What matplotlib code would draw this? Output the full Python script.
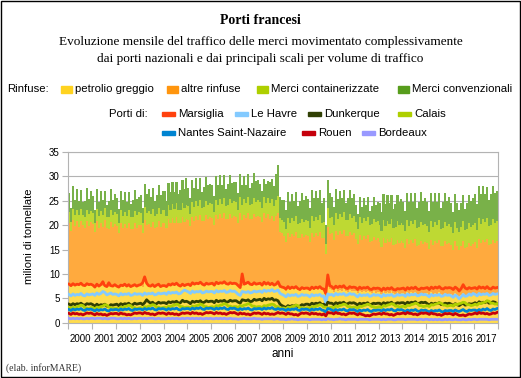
import matplotlib
matplotlib.use("Agg")
import matplotlib.pyplot as plt
from matplotlib.patches import Rectangle
import numpy as np

# valori mensili 2000-2017, milioni di tonnellate (una riga = un anno)
petrolio_greggio = [
    7.9, 7.4, 8.1, 7.6, 8.0, 7.7, 8.2, 7.9, 7.5, 8.0, 7.6, 8.1,
    7.8, 7.2, 8.0, 7.5, 7.9, 7.6, 8.1, 7.7, 7.4, 7.9, 7.5, 7.8,
    7.6, 7.1, 7.8, 7.4, 7.7, 7.5, 7.9, 7.6, 7.3, 7.8, 7.4, 7.7,
    7.8, 7.3, 8.6, 7.9, 7.6, 7.5, 7.8, 7.4, 7.6, 7.9, 7.3, 7.7,
    7.7, 7.4, 7.9, 7.6, 8.0, 7.7, 8.1, 7.8, 7.5, 8.0, 7.6, 7.9,
    7.9, 7.5, 8.1, 7.8, 8.2, 7.9, 8.3, 8.0, 7.7, 8.1, 7.8, 8.0,
    8.0, 7.6, 8.2, 7.9, 8.3, 8.0, 8.4, 8.1, 7.8, 8.2, 7.9, 8.1,
    8.1, 7.7, 8.3, 7.6, 8.0, 7.8, 8.2, 7.9, 7.7, 8.1, 7.8, 8.0,
    7.9, 7.6, 8.2, 7.8, 8.1, 7.7, 8.0, 7.6, 7.8, 7.9, 7.2, 7.3,
    7.0, 6.6, 7.2, 6.8, 7.1, 6.9, 7.2, 6.8, 6.6, 6.9, 6.7, 6.9,
    6.8, 6.4, 7.0, 6.7, 7.0, 6.8, 7.1, 6.7, 6.5, 5.2, 7.4, 6.9,
    6.8, 6.3, 6.9, 6.5, 6.8, 6.6, 6.9, 6.5, 6.3, 6.7, 6.4, 6.6,
    6.4, 6.0, 6.6, 6.2, 6.5, 6.3, 6.6, 6.2, 6.0, 6.4, 6.1, 6.3,
    6.2, 5.8, 6.4, 6.0, 6.3, 6.1, 6.4, 6.0, 5.8, 6.2, 5.9, 6.1,
    6.1, 5.7, 6.3, 5.9, 6.2, 6.0, 6.3, 5.9, 5.7, 6.1, 5.8, 6.0,
    6.0, 5.6, 6.2, 5.8, 6.1, 5.9, 6.2, 5.8, 5.6, 6.0, 5.7, 5.9,
    5.9, 5.5, 6.1, 5.7, 5.4, 5.6, 6.1, 5.7, 5.5, 5.9, 5.6, 5.8,
    5.9, 5.5, 6.1, 5.8, 6.0, 5.8, 6.1, 5.7, 5.6, 6.0, 5.7, 5.9,
]
altre_rinfuse = [
    12.6, 11.4, 12.9, 12.2, 12.8, 12.0, 12.7, 12.1, 11.9, 12.8, 12.3, 12.6,
    12.4, 11.3, 12.8, 12.0, 12.6, 12.1, 12.9, 11.8, 11.9, 12.7, 12.2, 12.5,
    12.3, 11.2, 12.7, 12.0, 12.5, 11.9, 12.6, 11.7, 12.0, 12.6, 12.1, 12.4,
    12.2, 11.0, 12.5, 12.1, 12.7, 12.2, 12.8, 12.0, 12.1, 12.9, 12.4, 12.8,
    12.8, 12.0, 13.3, 12.9, 13.4, 12.8, 13.5, 12.7, 12.9, 13.6, 13.1, 13.4,
    13.2, 12.3, 13.6, 13.1, 13.7, 13.2, 13.8, 12.9, 13.2, 13.9, 13.4, 13.6,
    13.4, 12.5, 13.9, 13.3, 13.9, 13.4, 14.0, 13.1, 13.4, 14.0, 13.6, 13.8,
    13.6, 12.7, 14.1, 13.5, 14.0, 13.6, 14.2, 13.3, 13.6, 14.2, 13.8, 13.9,
    13.7, 13.0, 14.2, 13.6, 14.1, 13.5, 13.9, 13.2, 14.0, 14.6, 11.4, 11.0,
    10.8, 10.0, 11.2, 10.7, 11.1, 10.9, 11.3, 10.5, 10.8, 11.2, 10.9, 11.1,
    10.9, 10.2, 11.4, 10.9, 11.3, 11.0, 11.5, 10.6, 10.9, 8.8, 12.2, 11.3,
    11.5, 10.7, 12.0, 11.4, 11.9, 11.5, 12.1, 11.2, 11.4, 11.9, 11.6, 11.8,
    10.8, 10.1, 11.3, 10.7, 11.2, 10.9, 11.3, 10.4, 10.7, 11.2, 10.9, 11.0,
    10.4, 9.7, 10.9, 10.3, 10.8, 10.5, 10.9, 10.0, 10.3, 10.8, 10.5, 10.6,
    10.3, 9.6, 10.8, 10.2, 10.7, 10.4, 10.8, 9.9, 10.2, 10.7, 10.4, 10.5,
    10.3, 9.6, 10.8, 10.2, 10.7, 10.4, 10.8, 9.9, 10.2, 10.7, 10.4, 10.5,
    10.1, 9.4, 10.6, 10.0, 9.6, 10.2, 10.6, 9.7, 10.0, 10.5, 10.2, 10.3,
    10.6, 9.9, 11.1, 10.5, 11.0, 10.7, 11.1, 10.2, 10.5, 11.0, 10.7, 10.8,
]
merci_container = [
    2.2, 1.9, 2.4, 2.2, 2.4, 2.3, 2.5, 2.1, 2.2, 2.4, 2.3, 2.3,
    2.3, 2.0, 2.5, 2.3, 2.5, 2.3, 2.5, 2.2, 2.3, 2.5, 2.4, 2.4,
    2.4, 2.1, 2.6, 2.4, 2.6, 2.4, 2.6, 2.3, 2.4, 2.6, 2.5, 2.5,
    2.5, 2.2, 2.7, 2.5, 2.7, 2.6, 2.8, 2.4, 2.5, 2.7, 2.6, 2.6,
    2.7, 2.4, 2.9, 2.7, 2.9, 2.8, 3.0, 2.6, 2.7, 2.9, 2.8, 2.8,
    2.8, 2.5, 3.0, 2.8, 3.0, 2.9, 3.1, 2.7, 2.8, 3.0, 2.9, 2.9,
    2.9, 2.6, 3.1, 2.9, 3.1, 3.0, 3.2, 2.8, 2.9, 3.1, 3.0, 3.0,
    3.1, 2.8, 3.3, 3.1, 3.3, 3.2, 3.4, 3.0, 3.1, 3.3, 3.2, 3.2,
    3.2, 2.9, 3.4, 3.2, 3.4, 3.3, 3.5, 3.1, 3.3, 3.5, 2.9, 2.8,
    2.9, 2.7, 3.1, 3.0, 3.2, 3.1, 3.3, 2.9, 3.0, 3.2, 3.1, 3.1,
    3.1, 2.9, 3.4, 3.2, 3.4, 3.3, 3.5, 3.1, 3.2, 2.2, 3.9, 3.3,
    3.3, 3.1, 3.6, 3.4, 3.6, 3.5, 3.7, 3.3, 3.4, 3.6, 3.5, 3.5,
    3.4, 3.2, 3.7, 3.5, 3.7, 3.6, 3.8, 3.4, 3.5, 3.7, 3.6, 3.6,
    3.5, 3.3, 3.8, 3.6, 3.8, 3.7, 3.9, 3.5, 3.6, 3.8, 3.7, 3.7,
    3.6, 3.4, 3.9, 3.7, 3.9, 3.8, 4.0, 3.6, 3.7, 3.9, 3.8, 3.8,
    3.6, 3.4, 3.9, 3.7, 3.9, 3.8, 4.0, 3.6, 3.7, 3.9, 3.8, 3.8,
    3.7, 3.5, 4.0, 3.8, 3.6, 3.9, 4.1, 3.7, 3.8, 4.0, 3.9, 3.9,
    3.9, 3.7, 4.2, 4.0, 4.2, 4.1, 4.3, 3.9, 4.0, 4.2, 4.1, 4.1,
]
merci_convenzionali = [
    3.9, 2.8, 4.6, 3.1, 4.3, 3.0, 3.8, 2.6, 3.4, 4.5, 3.2, 4.0,
    3.5, 2.7, 4.2, 3.0, 4.0, 3.2, 3.6, 2.5, 3.3, 4.3, 3.1, 3.7,
    3.2, 2.9, 3.9, 3.3, 4.1, 3.0, 3.7, 2.7, 3.5, 4.2, 3.3, 3.2,
    3.6, 3.0, 4.6, 3.8, 4.4, 3.5, 4.3, 3.2, 4.0, 4.8, 3.9, 4.0,
    3.8, 3.1, 4.5, 3.7, 4.6, 3.6, 4.3, 3.3, 4.1, 4.7, 4.0, 5.6,
    3.7, 3.2, 4.6, 3.9, 4.7, 3.5, 4.4, 3.2, 4.2, 4.8, 4.1, 3.9,
    4.0, 3.3, 4.8, 4.1, 4.9, 3.8, 4.6, 3.4, 4.3, 5.0, 4.2, 4.0,
    4.1, 3.4, 4.7, 4.0, 4.8, 3.7, 4.6, 3.5, 4.2, 5.0, 4.3, 4.1,
    3.7, 3.5, 3.7, 3.9, 3.4, 4.3, 4.1, 4.1, 5.4, 6.3, 4.3, 4.1,
    4.4, 3.8, 5.2, 4.3, 5.0, 4.1, 4.9, 3.7, 4.6, 5.3, 4.5, 4.8,
    4.6, 4.0, 5.5, 4.7, 5.3, 4.5, 5.2, 4.1, 4.9, 3.8, 5.8, 5.0,
    4.2, 3.6, 4.9, 4.0, 4.7, 3.9, 4.6, 3.5, 4.4, 5.0, 4.1, 4.5,
    3.5, 3.0, 4.2, 3.4, 4.1, 3.3, 4.0, 2.9, 3.7, 4.4, 3.6, 3.8,
    4.4, 3.9, 5.2, 4.5, 5.3, 4.2, 5.0, 3.8, 4.7, 5.4, 4.6, 4.9,
    4.8, 4.2, 5.6, 4.9, 5.7, 4.6, 5.4, 4.1, 5.1, 6.2, 5.0, 5.3,
    4.9, 4.3, 5.7, 5.0, 5.8, 4.7, 5.5, 4.2, 5.2, 5.9, 5.1, 5.5,
    4.9, 4.4, 5.6, 5.1, 4.6, 4.8, 5.4, 4.3, 5.3, 5.8, 5.2, 5.6,
    5.9, 5.2, 6.7, 6.0, 6.8, 5.7, 6.4, 5.3, 6.2, 6.9, 6.0, 6.2,
]

marsiglia = [
    7.9, 7.6, 8.0, 7.7, 7.9, 7.8, 8.1, 7.7, 7.6, 8.0, 7.8, 7.9,
    7.7, 7.3, 7.9, 7.5, 7.8, 8.4, 7.6, 7.4, 8.2, 7.6, 7.5, 7.8,
    7.5, 7.3, 7.7, 7.6, 7.9, 7.5, 7.8, 7.4, 7.6, 7.8, 7.5, 7.7,
    7.8, 8.2, 9.4, 8.1, 7.6, 7.5, 7.8, 7.4, 7.7, 7.9, 7.4, 7.6,
    7.6, 7.4, 7.9, 7.7, 8.0, 7.8, 8.1, 7.7, 7.5, 7.9, 7.6, 7.8,
    7.9, 7.6, 8.2, 7.9, 8.1, 8.0, 8.3, 7.9, 7.7, 8.1, 7.9, 8.0,
    8.1, 7.7, 8.3, 8.0, 8.2, 8.1, 8.4, 8.0, 7.9, 8.2, 8.0, 8.1,
    8.0, 7.6, 7.2, 10.0, 7.9, 8.1, 8.3, 7.9, 7.8, 8.2, 7.9, 8.0,
    8.1, 7.7, 8.3, 7.9, 8.2, 7.8, 8.1, 7.7, 7.9, 8.4, 7.5, 7.3,
    7.2, 6.9, 7.4, 7.0, 7.3, 7.1, 7.4, 7.0, 6.8, 7.2, 7.0, 7.1,
    7.1, 6.8, 7.3, 7.0, 7.3, 7.1, 7.4, 7.0, 6.9, 6.0, 9.8, 7.6,
    7.4, 7.0, 7.5, 7.2, 7.5, 7.3, 7.6, 7.1, 7.0, 7.4, 7.2, 7.3,
    7.2, 6.8, 7.3, 7.0, 7.2, 7.1, 7.3, 6.9, 6.8, 7.1, 7.0, 7.1,
    7.0, 6.6, 7.1, 6.8, 7.1, 6.9, 7.2, 6.8, 6.7, 7.0, 6.9, 7.0,
    7.1, 6.7, 7.2, 6.9, 7.2, 7.0, 7.3, 6.9, 6.8, 7.1, 7.0, 7.1,
    7.2, 6.8, 7.3, 7.0, 7.3, 7.1, 7.4, 7.0, 6.9, 7.2, 7.1, 7.2,
    7.1, 6.8, 7.3, 7.0, 6.5, 7.0, 7.8, 7.1, 6.9, 7.2, 7.0, 7.1,
    7.2, 6.9, 7.4, 7.1, 7.3, 7.0, 7.4, 7.0, 6.9, 7.3, 7.1, 7.2,
]
le_havre = [
    5.8, 5.5, 5.9, 5.6, 5.8, 5.7, 6.0, 5.6, 5.5, 5.9, 5.7, 5.8,
    5.9, 5.6, 6.1, 5.8, 6.0, 6.4, 6.2, 5.7, 5.9, 6.1, 5.8, 5.9,
    5.8, 5.5, 6.0, 5.7, 5.9, 5.8, 6.0, 5.6, 5.7, 6.0, 5.8, 5.9,
    5.9, 5.6, 6.1, 5.8, 6.0, 5.9, 6.1, 5.7, 5.8, 6.1, 5.9, 6.0,
    6.1, 5.8, 6.3, 6.0, 6.2, 6.1, 6.3, 5.9, 6.0, 6.4, 6.7, 6.5,
    6.3, 6.0, 6.5, 6.2, 6.4, 6.3, 6.5, 6.1, 6.2, 6.5, 6.3, 6.4,
    6.4, 6.1, 6.6, 6.3, 6.5, 6.4, 6.6, 6.2, 6.3, 6.6, 6.4, 6.5,
    6.2, 5.8, 5.6, 6.4, 6.3, 6.2, 6.4, 6.1, 6.2, 6.5, 6.3, 6.4,
    6.5, 6.2, 6.7, 6.4, 6.6, 6.5, 6.8, 6.4, 6.5, 6.7, 6.0, 5.8,
    5.6, 5.3, 5.8, 5.5, 5.7, 5.6, 5.8, 5.4, 5.5, 5.8, 5.6, 5.7,
    5.6, 5.3, 5.8, 5.5, 5.7, 5.6, 5.8, 5.4, 5.5, 4.0, 5.9, 5.7,
    5.8, 5.5, 6.0, 5.7, 5.9, 5.8, 6.0, 5.6, 5.7, 6.0, 5.8, 5.9,
    5.6, 5.3, 5.8, 5.5, 5.7, 5.6, 5.8, 5.4, 5.5, 5.8, 5.6, 5.7,
    5.6, 5.3, 5.8, 5.5, 5.7, 5.6, 5.8, 5.4, 5.5, 5.8, 5.6, 5.7,
    5.7, 5.4, 5.9, 5.6, 5.8, 5.7, 5.9, 5.5, 5.6, 5.9, 5.7, 5.8,
    5.6, 5.3, 5.8, 5.5, 5.7, 5.6, 5.8, 5.4, 5.5, 5.8, 5.6, 5.7,
    5.5, 5.2, 5.7, 5.4, 4.9, 5.3, 5.8, 5.4, 5.5, 5.9, 5.6, 6.0,
    5.8, 5.5, 6.0, 5.7, 5.9, 5.8, 6.0, 5.6, 5.7, 6.0, 5.8, 5.9,
]
dunkerque = [
    3.8, 3.6, 3.9, 3.7, 3.9, 3.8, 4.0, 3.7, 3.6, 3.9, 3.8, 3.9,
    3.7, 3.4, 3.8, 3.5, 3.7, 3.6, 3.8, 3.4, 3.3, 3.7, 3.6, 3.7,
    3.8, 3.5, 3.9, 3.7, 3.9, 3.8, 4.0, 3.6, 3.7, 4.0, 3.8, 3.9,
    4.0, 3.7, 4.1, 4.7, 4.3, 4.0, 4.2, 3.8, 3.9, 4.2, 4.0, 4.1,
    4.1, 3.9, 4.3, 4.1, 4.3, 4.2, 4.4, 4.0, 4.1, 4.6, 4.3, 4.4,
    4.2, 3.9, 4.4, 4.2, 4.4, 4.3, 4.5, 4.1, 4.2, 4.5, 4.3, 4.4,
    4.4, 4.1, 4.6, 4.3, 4.5, 4.4, 4.6, 4.2, 4.3, 4.6, 4.4, 4.5,
    4.5, 4.2, 4.0, 4.7, 4.6, 4.5, 4.7, 4.3, 4.4, 4.8, 4.6, 4.7,
    4.8, 4.5, 5.0, 4.7, 4.9, 4.8, 5.0, 4.6, 4.7, 4.5, 3.8, 3.5,
    3.3, 3.1, 3.5, 3.3, 3.5, 3.4, 3.6, 3.3, 3.4, 3.7, 3.6, 3.8,
    3.8, 3.6, 4.0, 3.8, 4.0, 3.9, 4.1, 3.7, 3.8, 3.3, 4.2, 4.0,
    4.0, 3.7, 4.1, 3.9, 4.1, 4.0, 4.2, 3.8, 3.9, 4.1, 4.0, 4.1,
    3.9, 3.6, 4.0, 3.8, 4.0, 3.9, 4.1, 3.7, 3.8, 4.0, 3.9, 4.0,
    4.0, 3.7, 4.1, 3.9, 4.1, 4.0, 4.2, 3.8, 3.9, 4.1, 4.0, 4.1,
    4.1, 3.8, 4.2, 4.0, 4.2, 4.1, 4.3, 3.9, 4.0, 4.2, 4.1, 4.2,
    3.9, 3.6, 4.0, 3.8, 4.0, 3.9, 4.1, 3.7, 3.8, 4.0, 3.9, 4.0,
    3.8, 3.5, 3.9, 3.7, 3.5, 3.8, 4.0, 3.6, 3.7, 3.9, 3.8, 3.9,
    4.1, 3.8, 4.3, 4.0, 4.2, 4.1, 4.4, 4.0, 4.1, 4.3, 4.2, 3.9,
]
calais = [
    3.1, 2.9, 3.2, 3.0, 3.3, 3.4, 3.6, 3.5, 3.1, 3.0, 2.9, 3.1,
    3.1, 2.8, 3.2, 3.1, 3.3, 3.4, 3.7, 3.6, 3.2, 3.1, 2.9, 3.0,
    3.0, 2.8, 3.2, 3.1, 3.3, 3.4, 3.6, 3.5, 3.1, 3.1, 2.9, 3.0,
    3.1, 2.9, 3.3, 3.2, 3.4, 3.5, 3.7, 3.6, 3.2, 3.2, 3.0, 3.1,
    3.2, 3.0, 3.4, 3.3, 3.5, 3.6, 3.8, 3.7, 3.3, 3.3, 3.1, 3.2,
    3.2, 3.0, 3.4, 3.3, 3.5, 3.6, 3.8, 3.7, 3.3, 3.3, 3.1, 3.2,
    3.3, 3.1, 3.5, 3.4, 3.6, 3.7, 3.9, 3.8, 3.4, 3.4, 3.2, 3.3,
    3.3, 3.1, 3.5, 3.4, 3.6, 3.7, 3.9, 3.8, 3.4, 3.4, 3.2, 3.3,
    3.3, 3.1, 3.5, 3.4, 3.6, 3.7, 3.8, 3.7, 3.3, 3.3, 3.0, 3.0,
    3.0, 2.8, 3.2, 3.1, 3.3, 3.4, 3.6, 3.5, 3.1, 3.1, 2.9, 3.0,
    3.1, 2.9, 3.3, 3.2, 3.4, 3.5, 3.7, 3.6, 3.2, 3.2, 3.0, 3.1,
    3.2, 3.0, 3.4, 3.3, 3.5, 3.6, 3.8, 3.7, 3.3, 3.3, 3.1, 3.2,
    3.2, 3.0, 3.4, 3.3, 3.5, 3.6, 3.8, 3.7, 3.3, 3.3, 3.1, 3.2,
    3.3, 3.1, 3.5, 3.4, 3.6, 3.7, 3.9, 3.8, 3.4, 3.4, 3.2, 3.3,
    3.4, 3.2, 3.6, 3.5, 3.7, 3.8, 4.0, 3.9, 3.5, 3.5, 3.3, 3.4,
    3.5, 3.3, 3.7, 3.6, 3.8, 3.9, 4.1, 4.0, 3.6, 3.6, 3.4, 3.5,
    3.6, 3.4, 3.8, 3.7, 3.9, 4.0, 4.2, 4.1, 3.7, 3.7, 3.5, 3.6,
    3.8, 3.6, 4.0, 3.9, 4.1, 4.2, 4.5, 4.4, 4.0, 4.0, 3.8, 3.9,
]
nantes = [
    2.7, 2.5, 2.8, 2.6, 2.8, 2.7, 2.9, 2.6, 2.5, 2.8, 2.7, 2.8,
    2.6, 2.4, 2.7, 2.5, 2.7, 2.6, 2.8, 2.5, 2.4, 2.7, 2.6, 2.7,
    2.7, 2.5, 2.8, 2.6, 2.8, 2.7, 2.9, 2.6, 2.5, 2.8, 2.7, 2.8,
    2.8, 2.6, 2.9, 2.7, 2.9, 2.8, 3.0, 2.7, 2.6, 2.9, 2.8, 2.9,
    2.8, 2.6, 2.9, 2.7, 2.9, 2.8, 3.0, 2.7, 2.6, 2.9, 2.8, 2.9,
    2.9, 2.7, 3.0, 2.8, 3.0, 2.9, 3.1, 2.8, 2.7, 3.0, 2.9, 3.0,
    2.9, 2.7, 3.0, 2.8, 3.0, 2.9, 3.1, 2.8, 2.7, 3.0, 2.9, 3.0,
    2.8, 2.6, 2.9, 2.7, 2.9, 2.8, 3.0, 2.7, 2.6, 2.9, 2.8, 2.9,
    2.9, 2.7, 3.0, 2.8, 3.0, 2.9, 3.1, 2.8, 2.7, 2.9, 2.7, 2.8,
    2.7, 2.5, 2.8, 2.6, 2.8, 2.7, 2.9, 2.6, 2.5, 2.8, 2.7, 2.8,
    2.7, 2.5, 2.8, 2.6, 2.8, 2.7, 2.9, 2.6, 2.5, 2.2, 2.9, 2.8,
    2.6, 2.4, 2.7, 2.5, 2.7, 2.6, 2.8, 2.5, 2.4, 2.7, 2.6, 2.7,
    2.5, 2.3, 2.6, 2.4, 2.6, 2.5, 2.7, 2.4, 2.3, 2.6, 2.5, 2.6,
    2.6, 2.4, 2.7, 2.5, 2.7, 2.6, 2.8, 2.5, 2.4, 2.7, 2.6, 2.7,
    2.5, 2.3, 2.6, 2.4, 2.6, 2.5, 2.7, 2.4, 2.3, 2.6, 2.5, 2.6,
    2.4, 2.2, 2.5, 2.3, 2.5, 2.4, 2.6, 2.3, 2.2, 2.5, 2.4, 2.5,
    2.5, 2.3, 2.6, 2.4, 2.3, 2.5, 2.7, 2.4, 2.3, 2.6, 2.5, 2.6,
    2.6, 2.4, 2.7, 2.5, 2.8, 2.6, 2.9, 2.6, 2.5, 2.8, 2.7, 2.9,
]
rouen = [
    1.9, 1.7, 2.0, 1.8, 1.9, 1.7, 1.8, 1.6, 1.8, 2.0, 1.9, 2.0,
    1.8, 1.6, 1.9, 1.7, 1.8, 1.6, 1.7, 1.5, 1.7, 1.9, 1.8, 1.9,
    1.9, 1.7, 2.0, 1.8, 1.8, 1.6, 1.7, 1.6, 1.8, 2.0, 1.9, 2.0,
    2.0, 1.8, 2.1, 1.9, 1.9, 1.7, 1.8, 1.6, 1.8, 2.0, 1.9, 2.0,
    1.9, 1.7, 2.0, 1.8, 1.9, 1.7, 1.8, 1.6, 1.8, 2.0, 1.9, 2.0,
    2.0, 1.8, 2.1, 1.9, 2.0, 1.8, 1.9, 1.7, 1.9, 2.1, 2.0, 2.1,
    2.0, 1.8, 2.1, 1.9, 2.0, 1.8, 1.9, 1.7, 1.9, 2.1, 2.0, 2.1,
    1.9, 1.7, 2.0, 1.8, 1.9, 1.7, 1.8, 1.6, 1.8, 2.0, 1.9, 2.0,
    1.9, 1.7, 2.0, 1.8, 1.9, 1.7, 1.8, 1.7, 1.9, 2.1, 1.9, 2.0,
    1.9, 1.7, 2.0, 1.8, 1.8, 1.6, 1.7, 1.5, 1.8, 2.0, 1.9, 2.0,
    1.9, 1.7, 2.0, 1.8, 1.9, 1.7, 1.8, 1.6, 1.8, 1.4, 2.1, 2.0,
    2.0, 1.8, 2.1, 1.9, 1.9, 1.7, 1.8, 1.6, 1.8, 2.0, 1.9, 2.0,
    1.8, 1.6, 1.9, 1.7, 1.6, 1.4, 1.5, 1.4, 1.6, 1.8, 1.7, 1.8,
    1.9, 1.7, 2.0, 1.8, 1.8, 1.6, 1.7, 1.5, 1.7, 1.9, 1.8, 1.9,
    2.0, 1.8, 2.1, 1.9, 1.9, 1.7, 1.8, 1.6, 1.8, 2.0, 1.9, 2.0,
    1.9, 1.7, 2.0, 1.8, 1.8, 1.6, 1.7, 1.5, 1.7, 1.9, 1.8, 1.9,
    1.8, 1.6, 1.9, 1.7, 1.5, 1.5, 1.6, 1.4, 1.6, 1.8, 1.7, 1.8,
    2.0, 1.8, 2.1, 1.9, 2.0, 1.8, 1.9, 1.7, 1.8, 2.0, 1.9, 2.1,
]
bordeaux = [
    0.9, 0.8, 0.9, 0.8, 0.9, 0.8, 0.9, 0.8, 0.8, 0.9, 0.8, 0.9,
    0.9, 0.8, 0.9, 0.9, 0.9, 0.8, 0.9, 0.8, 0.8, 0.9, 0.9, 0.9,
    0.8, 0.8, 0.9, 0.8, 0.9, 0.8, 0.9, 0.8, 0.8, 0.9, 0.8, 0.9,
    0.9, 0.8, 0.9, 0.8, 0.9, 0.9, 0.9, 0.8, 0.8, 0.9, 0.8, 0.8,
    0.8, 0.8, 0.9, 0.8, 0.9, 0.8, 0.9, 0.8, 0.8, 0.9, 0.8, 0.9,
    0.9, 0.8, 0.9, 0.8, 0.9, 0.8, 0.9, 0.8, 0.8, 0.9, 0.8, 0.9,
    0.8, 0.8, 0.9, 0.8, 0.9, 0.8, 0.9, 0.8, 0.8, 0.9, 0.8, 0.8,
    0.8, 0.7, 0.8, 0.8, 0.9, 0.8, 0.8, 0.8, 0.8, 0.9, 0.8, 0.8,
    0.8, 0.7, 0.8, 0.8, 0.8, 0.8, 0.8, 0.7, 0.8, 0.8, 0.7, 0.7,
    0.7, 0.6, 0.7, 0.7, 0.8, 0.7, 0.7, 0.6, 0.7, 0.7, 0.7, 0.7,
    0.7, 0.6, 0.7, 0.7, 0.7, 0.7, 0.7, 0.6, 0.7, 0.6, 0.8, 0.7,
    0.7, 0.6, 0.7, 0.7, 0.8, 0.7, 0.7, 0.6, 0.7, 0.7, 0.7, 0.7,
    0.7, 0.6, 0.7, 0.7, 0.7, 0.7, 0.7, 0.6, 0.7, 0.7, 0.7, 0.7,
    0.7, 0.6, 0.7, 0.6, 0.7, 0.7, 0.7, 0.6, 0.6, 0.7, 0.7, 0.7,
    0.7, 0.6, 0.7, 0.7, 0.7, 0.7, 0.7, 0.6, 0.7, 0.7, 0.6, 0.7,
    0.7, 0.6, 0.7, 0.6, 0.7, 0.6, 0.7, 0.6, 0.6, 0.7, 0.6, 0.7,
    0.6, 0.6, 0.7, 0.6, 0.6, 0.6, 0.7, 0.6, 0.6, 0.7, 0.6, 0.7,
    0.7, 0.6, 0.7, 0.7, 0.7, 0.7, 0.7, 0.6, 0.7, 0.7, 0.7, 0.7,
]
anni = [str(a) for a in range(2000, 2018)]

# colore della legenda, colore (schiarito) delle barre
rinfuse = [("petrolio greggio", petrolio_greggio, "#FFD320", "#FFDC4D"),
           ("altre rinfuse", altre_rinfuse, "#FF950E", "#FFAA3E"),
           ("Merci containerizzate", merci_container, "#AECF00", "#BED933"),
           ("Merci convenzionali", merci_convenzionali, "#579D1C", "#79B149")]
porti = [("Marsiglia", marsiglia, "#FF420E"),
         ("Le Havre", le_havre, "#83CAFF"),
         ("Dunkerque", dunkerque, "#314004"),
         ("Calais", calais, "#AECF00"),
         ("Nantes Saint-Nazaire", nantes, "#0084D1"),
         ("Rouen", rouen, "#C5000B"),
         ("Bordeaux", bordeaux, "#9999FF")]

W, H = 521, 378
SANS = "Liberation Sans"
SERIF = "Liberation Serif"
GRID = "#b3b3b3"
FS = 8.2


def fx(x):
    return x / W


def fy(y):
    return 1 - y / H


fig = plt.figure(figsize=(W / 100, H / 100), dpi=100)
ax = fig.add_axes([fx(68), fy(322.7), fx(498) - fx(68), fy(152) - fy(322.7)])

x = np.arange(len(petrolio_greggio))
bottom = np.zeros(len(x))
for name, vals, col, barcol in rinfuse:
    vals = np.asarray(vals)
    ax.bar(x, vals, width=1.05, bottom=bottom, color=barcol,
           linewidth=0, antialiased=False, zorder=2)
    bottom = bottom + vals

for name, vals, col in porti:
    ax.plot(x, vals, color=col, lw=2.0, zorder=3, solid_joinstyle="round")

ax.set_xlim(-0.5, len(x) - 0.5)
ax.set_ylim(0, 35)
ax.set_yticks(range(0, 36, 5))
ax.yaxis.grid(True, color=GRID, lw=0.8, zorder=0)
ax.set_axisbelow(True)
ax.set_xticks(np.arange(0, len(x) + 1, 12) - 0.5)
ax.set_xticklabels([])
ax.set_xticks(np.arange(len(anni)) * 12 + 5.5, minor=True)
ax.set_xticklabels(anni, minor=True, fontsize=7, family=SANS)
ax.tick_params(axis="x", which="major", length=4, color=GRID, width=0.8)
ax.tick_params(axis="x", which="minor", length=0, pad=8)
ax.tick_params(axis="y", length=4, color=GRID, width=0.8, labelsize=7,
               pad=2)
for lab in ax.get_yticklabels():
    lab.set_family(SANS)
for s in ax.spines.values():
    s.set_color(GRID)
    s.set_linewidth(0.8)

fig.text(fx(29.3), fy(236.7), "milioni di tonnellate", rotation=90,
         ha="center", va="center", fontsize=8, family=SANS)
fig.text(fx(283), fy(354.3), "anni", ha="center", va="center", fontsize=8.5,
         family=SANS)

# titoli
fig.text(0.5, fy(20.7), "Porti francesi", ha="center", va="center",
         fontsize=10, fontweight="bold", family=SERIF)
fig.text(0.5, fy(42.3),
         "Evoluzione mensile del traffico delle merci movimentato complessivamente",
         ha="center", va="center", fontsize=9.5, family=SERIF)
fig.text(0.5, fy(59),
         "dai porti nazionali e dai principali scali per volume di traffico",
         ha="center", va="center", fontsize=9.5, family=SERIF)
fig.text(fx(6), fy(368.3), "(elab. inforMARE)", ha="left", va="center",
         fontsize=7, family=SERIF, color="#333333")

# legenda rinfuse
fig.text(fx(7), fy(89), "Rinfuse:", ha="left", va="center", fontsize=FS,
         family=SANS)
leg1 = [61, 167, 257, 398]
for (name, vals, col, barcol), px in zip(rinfuse, leg1):
    fig.patches.append(Rectangle((fx(px), fy(92.5)), fx(11), fy(0) - fy(7),
                                 transform=fig.transFigure, color=col))
    fig.text(fx(px + 14), fy(89), name, ha="left", va="center",
             fontsize=FS, family=SANS)

# legenda porti
fig.text(fx(109), fy(114), "Porti di:", ha="left", va="center", fontsize=FS,
         family=SANS)
leg2 = [(162, 114), (235, 114), (308, 114), (398, 114),
        (162, 132.7), (302, 132.7), (362, 132.7)]
for (name, vals, col), (px, py) in zip(porti, leg2):
    fig.patches.append(Rectangle((fx(px), fy(py + 2)), fx(13), fy(0) - fy(4),
                                 transform=fig.transFigure, color=col))
    fig.text(fx(px + 16), fy(py), name, ha="left", va="center",
             fontsize=FS, family=SANS)

fig.patches.append(Rectangle((0.001, 0.0015), 0.997, 0.996,
                             transform=fig.transFigure, fill=False,
                             edgecolor="black", lw=1))

fig.savefig("out.png", dpi=100)
